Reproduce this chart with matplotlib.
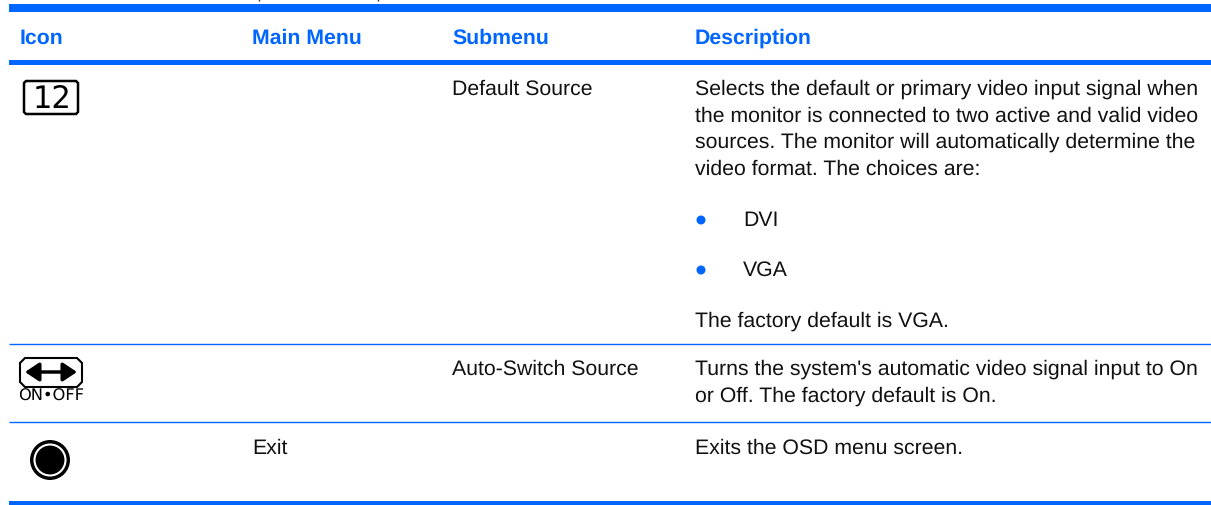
import matplotlib
matplotlib.use('Agg')
import matplotlib.pyplot as plt
from matplotlib.patches import Circle, Polygon

plt.rcParams['font.family'] = ['Liberation Sans', 'DejaVu Sans']
plt.rcParams['text.hinting'] = 'no_hinting'

blue = '#0066ff'
txt = '#111111'

# header labels and their x
headers = ['Icon', 'Main Menu', 'Submenu', 'Description']
header_x = [20, 252, 452, 695]

submenus = ['Default Source', 'Auto-Switch Source']
main_menu = ['Exit']

desc_1 = ['Selects the default or primary video input signal when',
          'the monitor is connected to two active and valid video',
          'sources. The monitor will automatically determine the',
          'video format. The choices are:']
desc_1_y = [95, 122, 148, 175]
choices = ['DVI', 'VGA']
choices_y = [226, 276]
desc_2 = ['Turns the system\'s automatic video signal input to On',
          'or Off. The factory default is On.']
desc_2_y = [375, 401.5]

fig = plt.figure(figsize=(12.11, 5.06), dpi=100)
ax = fig.add_axes([0, 0, 1, 1])
ax.set_xlim(0, 1211)
ax.set_ylim(506, 0)
ax.axis('off')

fs = 15.3

def rule(y0, y1):
    ax.fill_between([8.7, 1211], y0, y1, color=blue, lw=0)

rule(5, 12.5)
rule(61, 66)
rule(502, 506)
ax.plot([8.7, 1211], [344.5, 344.5], color=blue, lw=1, solid_capstyle='butt')
ax.plot([8.7, 1211], [422.5, 422.5], color=blue, lw=1, solid_capstyle='butt')

# bits of the cut off line above the table
ax.plot([259, 259], [0, 1.5], color='#333333', lw=1, solid_capstyle='butt')
ax.plot([378, 378], [0, 1.5], color='#333333', lw=1, solid_capstyle='butt')

for x, h in zip(header_x, headers):
    ax.text(x, 44, h, color=blue, fontsize=fs, fontweight='bold')

ax.text(452, 94.5, submenus[0], color=txt, fontsize=fs)
ax.text(452, 375, submenus[1], color=txt, fontsize=fs)
ax.text(252, 454, main_menu[0], color=txt, fontsize=fs)

for s, y in zip(desc_1, desc_1_y):
    ax.text(695, y, s, color=txt, fontsize=fs)
for s, y in zip(choices, choices_y):
    ax.add_patch(Circle((701, y - 5), 4.5, color=blue, lw=0))
    ax.text(743, y, s, color=txt, fontsize=fs)
ax.text(695, 326.5, 'The factory default is VGA.', color=txt, fontsize=fs)
for s, y in zip(desc_2, desc_2_y):
    ax.text(695, y, s, color=txt, fontsize=fs)
ax.text(695, 454, 'Exits the OSD menu screen.', color=txt, fontsize=fs)

# icons
ax.add_patch(Polygon([(26, 82), (76, 82), (78, 84), (78, 113), (76, 115), (26, 115), (24, 113), (24, 84)],
                     closed=True, fc='white', ec='k', lw=1.8))
ax.text(52, 99.5, '12', color='k', fontsize=22, ha='center', va='center', family='DejaVu Sans')

ax.add_patch(Polygon([(25, 359), (77, 359), (82, 364), (82, 383), (77, 388), (25, 388), (20, 383), (20, 364)],
                     closed=True, fc='white', ec='k', lw=1.5))
ax.annotate('', xy=(25, 373), xytext=(77, 373),
            arrowprops=dict(arrowstyle='<|-|>,head_length=0.6,head_width=0.4', color='k', lw=2.5,
                            mutation_scale=14, shrinkA=0, shrinkB=0))
ax.text(51, 396.5, 'ON•OFF', color='k', fontsize=11.7, ha='center', va='center', family='DejaVu Sans')

ax.add_patch(Circle((50, 461), 20, fc='k', ec='none'))
ax.add_patch(Circle((50, 461), 15.5, fc='none', ec='white', lw=1.5))

fig.savefig('out.png', dpi=100)
